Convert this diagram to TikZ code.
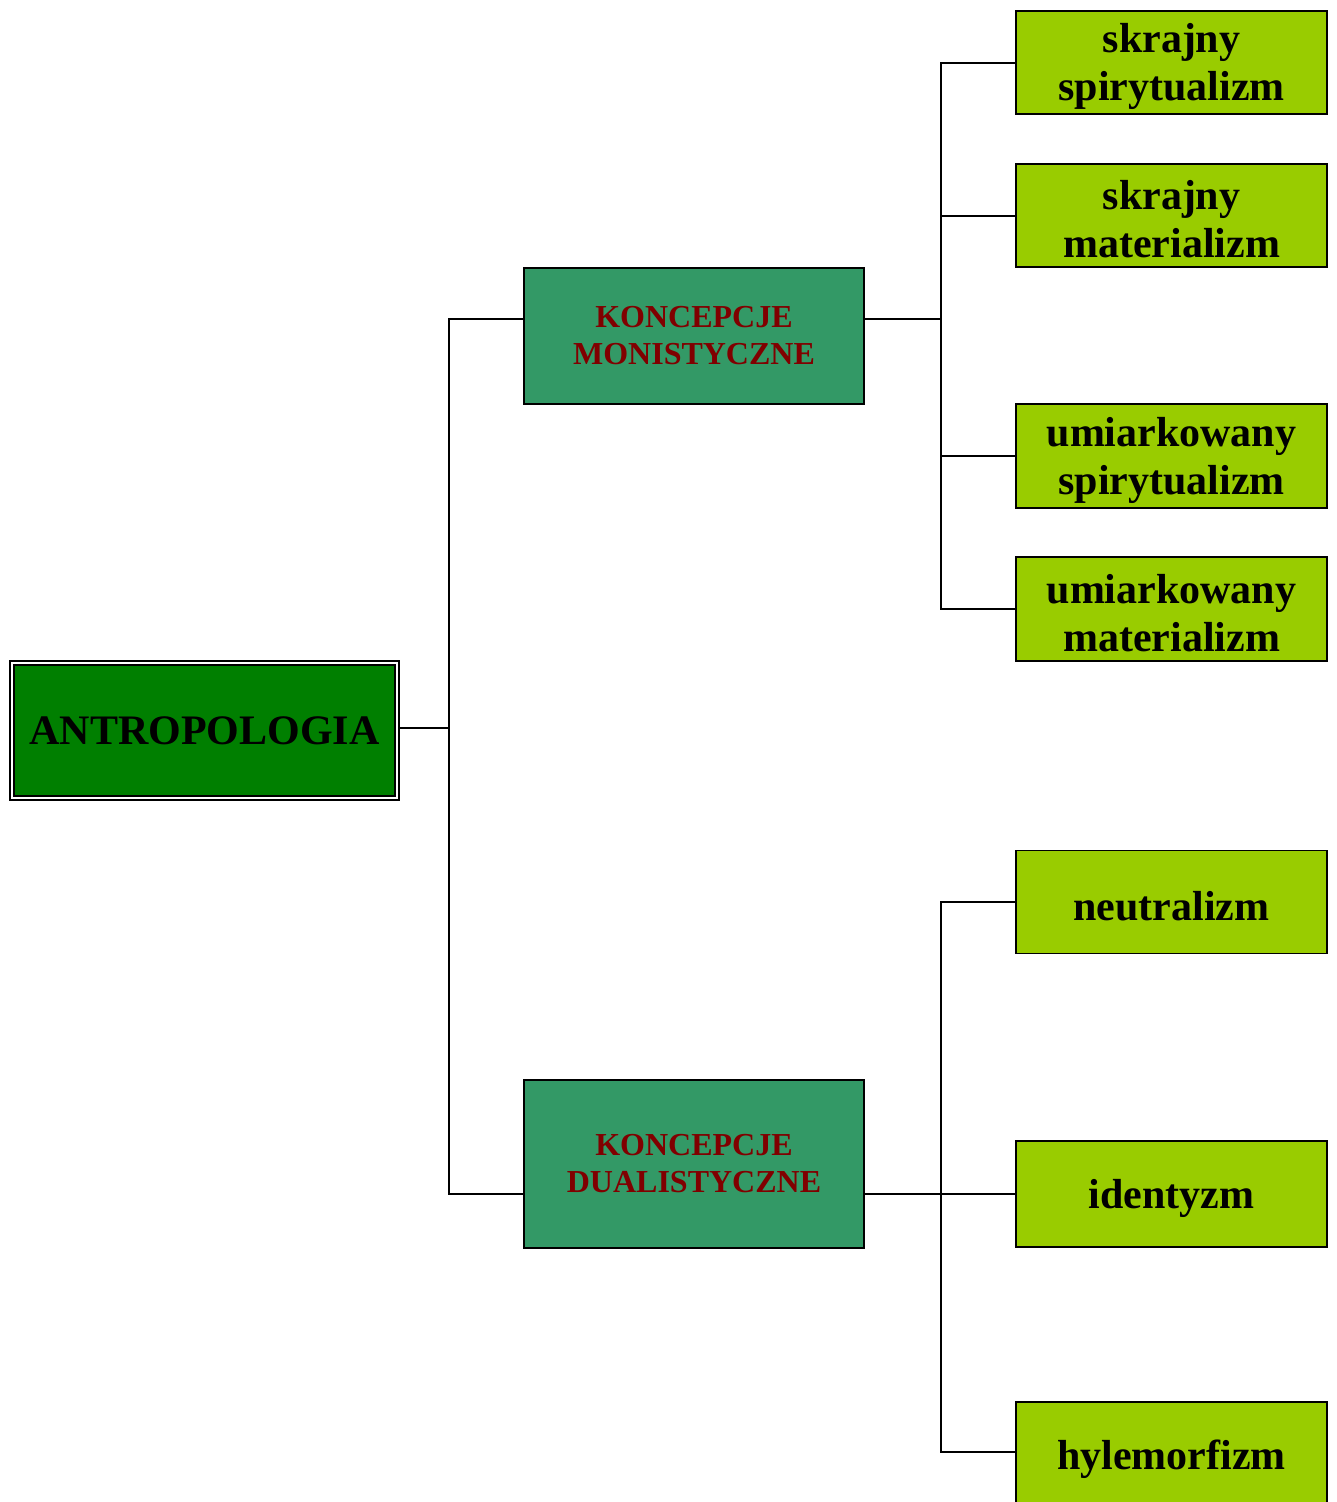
\documentclass[tikz,border=0pt]{standalone}
\usepackage{fontspec}
\setmainfont{Liberation Serif}
\definecolor{antgreen}{HTML}{007F00}
\definecolor{midgreen}{HTML}{339966}
\definecolor{lightgreen}{HTML}{99CC00}
\definecolor{darkred}{HTML}{800000}
\begin{document}
\begin{tikzpicture}[x=1pt,y=-1pt,
  conn/.style={line width=2pt},
  rootbox/.style={draw=black, fill=antgreen, line width=2pt, double=white, double distance=1.6pt,
    minimum width=385pt, minimum height=135pt, inner sep=0pt,
    font=\bfseries\fontsize{42}{48}\selectfont},
  midbox/.style={draw=black, fill=midgreen, line width=2pt, minimum width=340pt, inner sep=0pt,
    text=darkred, align=center, font=\bfseries\fontsize{32}{37}\selectfont},
  leafbox/.style={draw=black, fill=lightgreen, line width=1.8pt, minimum width=311pt, inner sep=0pt},
  leaftext/.style={align=center, inner sep=0pt, yshift=-4pt, font=\bfseries\fontsize{42}{48}\selectfont}
]
\useasboundingbox (0,0) rectangle (1337,1502);
% root
\node[rootbox] (ant) at (204.5,730.5) {ANTROPOLOGIA};
% middle
\node[midbox, minimum height=136pt] (mon) at (694,336) {KONCEPCJE\\MONISTYCZNE};
\node[midbox, minimum height=168pt] (dual) at (694,1164) {KONCEPCJE\\DUALISTYCZNE};
% leaves
\node[leafbox, minimum height=103pt, label={[leaftext]center:{skrajny\\spirytualizm}}] (s1) at (1171.5,62.5) {};
\node[leafbox, minimum height=103pt, label={[leaftext]center:{skrajny\\materializm}}] (s2) at (1171.5,215.5) {};
\node[leafbox, minimum height=104pt, label={[leaftext]center:{umiarkowany\\spirytualizm}}] (s3) at (1171.5,456) {};
\node[leafbox, minimum height=104pt, label={[leaftext]center:{umiarkowany\\materializm}}] (s4) at (1171.5,609) {};
\node[leafbox, minimum height=103pt, label={[leaftext]center:{neutralizm}}] (d1) at (1171.5,902) {};
\node[leafbox, minimum height=106pt, label={[leaftext]center:{identyzm}}] (d2) at (1171.5,1194) {};
\node[leafbox, minimum height=106pt, label={[leaftext]center:{hylemorfizm}}] (d3) at (1171.5,1455) {};
% connector points
\path (ant.east) ++(0,-2.5) coordinate (antR);
\path (antR) ++(51,0) coordinate (j1);
\path (mon.west) ++(0,-17) coordinate (monL);
\path (mon.east) ++(0,-17) coordinate (monR);
\path (dual.west) ++(0,30) coordinate (dualL);
\path (dual.east) ++(0,30) coordinate (dualR);
\path (monR) ++(76,0) coordinate (j2);
\path (dualR) ++(76,0) coordinate (j3);
\path (d3.west) ++(0,-3) coordinate (d3L);
% connectors
\draw[conn] (antR) -- (j1);
\draw[conn] (j1) |- (monL);
\draw[conn] (j1) |- (dualL);
\draw[conn] (monR) -- (j2);
\draw[conn] (j2) |- (s1.west);
\draw[conn] (j2) |- (s2.west);
\draw[conn] (j2) |- (s3.west);
\draw[conn] (j2) |- (s4.west);
\draw[conn] (dualR) -- (j3);
\draw[conn] (j3) |- (d1.west);
\draw[conn] (j3) -- (d2.west);
\draw[conn] (j3) |- (d3L);
\end{tikzpicture}
\end{document}
